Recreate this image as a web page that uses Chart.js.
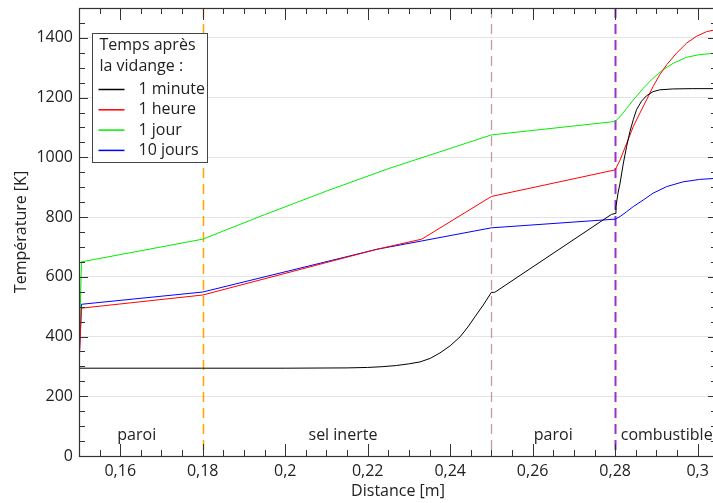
<!DOCTYPE html>
<html>
<head>
<meta charset="utf-8">
<script src="https://cdn.jsdelivr.net/npm/chart.js@4.4.1/dist/chart.umd.min.js"></script>
<style>
  html, body { margin: 0; padding: 0; background: #fff; overflow: hidden; }
  #wrap { width: 720px; height: 503px; }
</style>
</head>
<body>
<div id="wrap"><canvas id="chart" width="720" height="503"></canvas></div>
<script>
// temperature profiles (distance in m, temperature in K)
const minuteX = [0.15, 0.18, 0.2, 0.215, 0.22, 0.2235, 0.227, 0.2302, 0.2327, 0.2352, 0.2375, 0.24, 0.2424, 0.2443, 0.246, 0.248, 0.25, 0.2508, 0.2791, 0.28, 0.2802, 0.2807, 0.2812, 0.282, 0.2828, 0.2836, 0.2844, 0.2852, 0.2864, 0.2876, 0.2892, 0.2908, 0.294, 0.2987, 0.3047];
const minuteT = [294, 294, 294, 295, 296.5, 299, 303, 309, 315, 327, 345, 369, 399, 432, 466, 505, 548, 548, 809, 812, 835, 880, 914, 981, 1037, 1087, 1126, 1160, 1188, 1206, 1220, 1226, 1229, 1230, 1230];

const hourX = [0.15, 0.1506, 0.18, 0.2222, 0.2331, 0.25, 0.28, 0.2812, 0.2828, 0.2844, 0.286, 0.2876, 0.2892, 0.2908, 0.2925, 0.2949, 0.2973, 0.2997, 0.3022, 0.3047];
const hourT = [300, 495, 539, 692, 726, 869, 958, 991, 1047, 1103, 1148, 1192, 1237, 1276, 1310, 1349, 1382, 1405, 1421, 1428];

const dayX = [0.15, 0.1506, 0.18, 0.195, 0.21, 0.225, 0.25, 0.28, 0.2812, 0.2828, 0.2844, 0.2868, 0.2892, 0.2916, 0.2941, 0.2973, 0.3005, 0.3047];
const dayT = [320, 650, 726, 808, 887, 962, 1075, 1120, 1136, 1164, 1192, 1231, 1265, 1293, 1315, 1335, 1344, 1349];

const days10X = [0.15, 0.1506, 0.18, 0.2222, 0.2331, 0.25, 0.28, 0.2812, 0.2828, 0.2844, 0.2868, 0.2892, 0.2925, 0.2965, 0.3005, 0.3047];
const days10T = [310, 508, 549, 692, 720, 764, 793, 802, 818, 835, 857, 880, 902, 918, 926, 930];

const seriesNames = ['1 minute', '1 heure', '1 jour', '10 jours'];
const seriesColors = ['#000000', '#ff0000', '#00ee00', '#0000ff'];

const xTicks = [0.16, 0.18, 0.2, 0.22, 0.24, 0.26, 0.28, 0.3];
const yTicks = [0, 200, 400, 600, 800, 1000, 1200, 1400];

// zone boundaries and zone names
const boundaryX = [0.18, 0.25, 0.28];
const boundaryColors = ['#ffa500', '#c49a9a', '#9932cc'];
const boundaryWidths = [1.5, 1.3, 2];
const zoneNames = ['paroi', 'sel inerte', 'paroi', 'combustible'];
const zoneCenters = [0.164, 0.214, 0.265, 0.2925];

const legendTitle = ['Temps après', 'la vidange :'];

const FONT = "'Open Sans', sans-serif";
const FSIZE = 16;

function zip(xs, ys) {
  return xs.map((x, i) => ({ x: x, y: ys[i] }));
}

const decor = {
  id: 'decor',
  beforeDatasetsDraw(chart) {
    const { ctx, chartArea: a, scales: { x } } = chart;
    ctx.save();
    boundaryX.forEach((v, i) => {
      const px = Math.round(x.getPixelForValue(v)) + 0.5;
      ctx.strokeStyle = boundaryColors[i];
      ctx.lineWidth = boundaryWidths[i];
      ctx.setLineDash([10, 6]);
      ctx.beginPath();
      ctx.moveTo(px, a.top);
      ctx.lineTo(px, a.bottom);
      ctx.stroke();
    });
    ctx.restore();
  },
  afterDatasetsDraw(chart) {
    const { ctx, chartArea: a, scales: { x, y } } = chart;
    ctx.save();
    // frame
    ctx.strokeStyle = '#333';
    ctx.lineWidth = 1.2;
    ctx.strokeRect(a.left + 0.5, a.top + 0.5, a.right - a.left - 1, a.bottom - a.top);

    // inner ticks
    ctx.lineWidth = 1;
    ctx.strokeStyle = '#333';
    ctx.beginPath();
    for (let i = 0; ; i++) {
      const v = 0.15 + i * 0.005;
      if (v > x.max + 1e-9) break;
      const major = Math.abs(v * 50 - Math.round(v * 50)) < 1e-6;
      const len = major ? 12 : 6;
      const px = Math.round(x.getPixelForValue(v)) + 0.5;
      ctx.moveTo(px, a.bottom); ctx.lineTo(px, a.bottom - len);
      ctx.moveTo(px, a.top); ctx.lineTo(px, a.top + len);
    }
    for (let v = 0; v <= y.max; v += 50) {
      const major = v % 200 === 0;
      const len = major ? 9 : 6;
      const py = Math.round(y.getPixelForValue(v)) + 0.5;
      ctx.moveTo(a.left, py); ctx.lineTo(a.left + len, py);
      ctx.moveTo(a.right, py); ctx.lineTo(a.right - len, py);
    }
    ctx.stroke();

    // zone names
    ctx.fillStyle = '#222';
    ctx.font = FSIZE + 'px ' + FONT;
    ctx.textAlign = 'center';
    ctx.textBaseline = 'middle';
    zoneNames.forEach((n, i) => {
      ctx.fillText(n, x.getPixelForValue(zoneCenters[i]), a.bottom - 21);
    });

    // legend box
    const lx = a.left + 13.5, ly = a.top + 25.5, lw = 115, lh = 129;
    ctx.fillStyle = '#fff';
    ctx.fillRect(lx, ly, lw, lh);
    ctx.strokeStyle = '#444';
    ctx.lineWidth = 1;
    ctx.strokeRect(lx, ly, lw, lh);
    ctx.fillStyle = '#222';
    ctx.textAlign = 'left';
    legendTitle.forEach((t, i) => ctx.fillText(t, lx + 7, ly + 12 + i * 20.5));
    chart.data.datasets.forEach((ds, i) => {
      const yy = ly + 56 + i * 20.3;
      ctx.strokeStyle = ds.borderColor;
      ctx.lineWidth = 1.5;
      ctx.beginPath();
      ctx.moveTo(lx + 6, yy); ctx.lineTo(lx + 32, yy);
      ctx.stroke();
      ctx.fillStyle = '#222';
      ctx.fillText(ds.label, lx + 46, yy);
    });
    ctx.restore();
  }
};

const seriesX = [minuteX, hourX, dayX, days10X];
const seriesT = [minuteT, hourT, dayT, days10T];

new Chart(document.getElementById('chart'), {
  type: 'line',
  data: {
    datasets: seriesNames.map((name, i) => ({
      label: name,
      data: zip(seriesX[i], seriesT[i]),
      borderColor: seriesColors[i],
      backgroundColor: seriesColors[i],
      borderWidth: 1,
      pointRadius: 0,
      tension: 0,
      fill: false
    }))
  },
  options: {
    responsive: false,
    devicePixelRatio: 1,
    animation: false,
    layout: { padding: { top: 8, right: 3, left: 0, bottom: 0 } },
    plugins: {
      legend: { display: false },
      tooltip: { enabled: false }
    },
    scales: {
      x: {
        type: 'linear',
        min: 0.15,
        max: 0.3047,
        afterBuildTicks: s => { s.ticks = xTicks.map(v => ({ value: v })); },
        afterFit: s => { s.height = 47; s.paddingLeft = 0; s.paddingRight = 0; },
        grid: { display: false, drawTicks: false },
        border: { display: false },
        ticks: {
          padding: 6,
          color: '#222',
          font: { family: FONT, size: FSIZE },
          callback: v => String(+v.toFixed(3)).replace('.', ',')
        },
        title: {
          display: true,
          text: 'Distance [m]',
          color: '#222',
          font: { family: FONT, size: FSIZE },
          padding: { top: 0, bottom: 2 }
        }
      },
      y: {
        min: 0,
        max: 1500,
        afterBuildTicks: s => { s.ticks = yTicks.map(v => ({ value: v })); },
        afterFit: s => { s.width = 79; s.paddingTop = 0; s.paddingBottom = 0; },
        grid: { color: '#e4e4e4', lineWidth: 1, drawTicks: false },
        border: { display: false },
        ticks: {
          padding: 6,
          color: '#222',
          font: { family: FONT, size: FSIZE },
          callback: v => String(v)
        },
        title: {
          display: true,
          text: 'Température [K]',
          color: '#222',
          font: { family: FONT, size: FSIZE },
          padding: { top: 12, bottom: 0 }
        }
      }
    }
  },
  plugins: [decor]
});
</script>
</body>
</html>
